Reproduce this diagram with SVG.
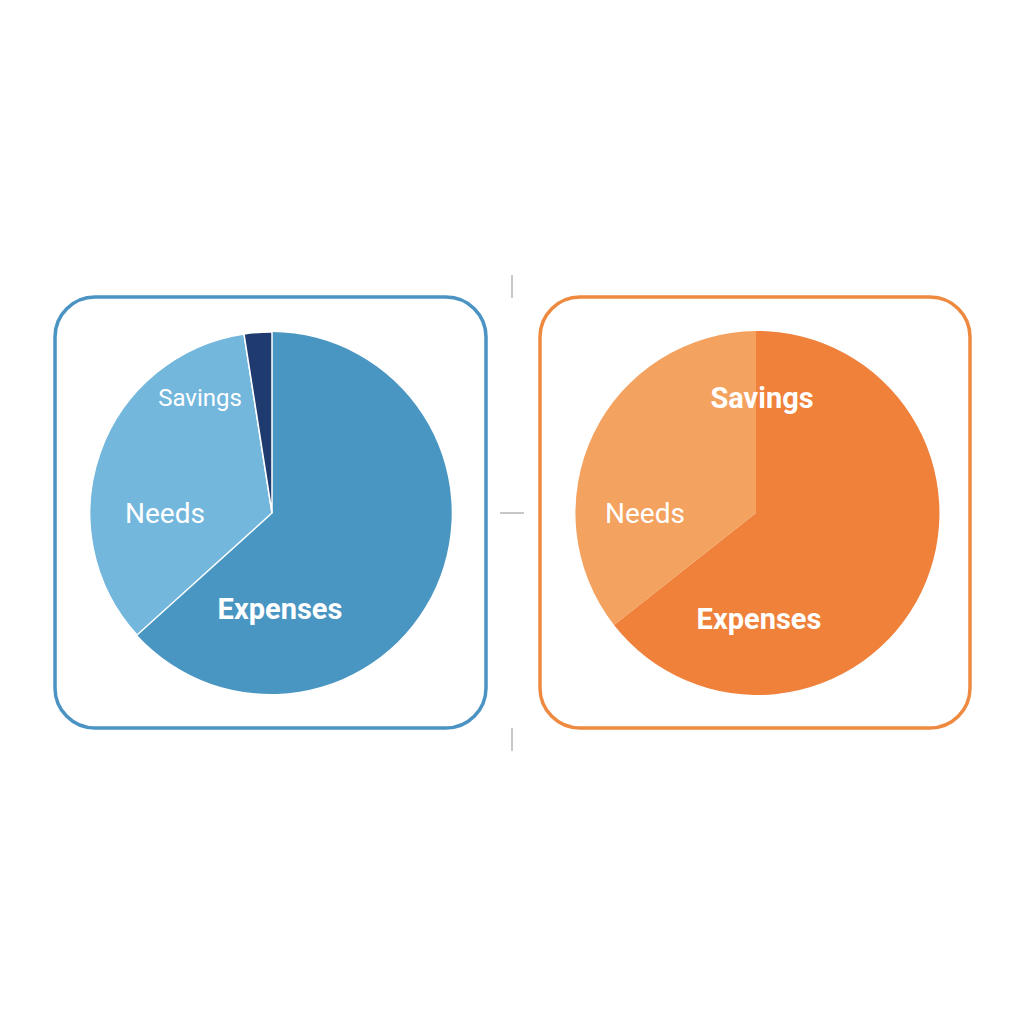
<svg xmlns="http://www.w3.org/2000/svg" width="1024" height="1024" viewBox="0 0 1024 1024">
<style>
text{font-family:Roboto,"Liberation Sans",sans-serif;fill:#fff;text-anchor:middle;dominant-baseline:central}
.b{font-weight:bold}
.tick{stroke:#c8c8c8;stroke-width:2}
</style>
<rect width="1024" height="1024" fill="#fff"/>
<g id="connectors">
<line class="tick" x1="512" y1="275" x2="512" y2="298"/>
<line class="tick" x1="500" y1="513" x2="524" y2="513"/>
<line class="tick" x1="512" y1="728" x2="512" y2="751"/>
</g>
<g id="left">
<rect x="55" y="297" width="431" height="431" rx="40" fill="none" stroke="#4a93c3" stroke-width="3.5"/>
<path d="M272,513 L272,332 A181,181 0 1,1 137,635 Z" fill="#4a96c2"/>
<path d="M272,513 L137,635 A181,181 0 0,1 244,334 Z" fill="#73b7dd" stroke="#fff" stroke-width="1.5"/>
<path d="M272,513 L244,334 A181,181 0 0,1 272,332 Z" fill="#1e3a6e" stroke="#fff" stroke-width="1.5"/>
<text x="200" y="398" font-size="24">Savings</text>
<text x="165" y="513" font-size="28">Needs</text>
<text x="280" y="609" font-size="29" class="b">Expenses</text>
</g>
<g id="right">
<rect x="540" y="297" width="430" height="431" rx="40" fill="none" stroke="#ee8a40" stroke-width="3.5"/>
<path d="M756,513 L756,331 A182,182 0 1,1 614,625 Z" fill="#ef813b"/>
<path d="M756,513 L614,625 A182,182 0 0,1 756,331 Z" fill="#f4a25f"/>
<text x="762" y="398" font-size="29" class="b">Savings</text>
<text x="645" y="513" font-size="28">Needs</text>
<text x="759" y="619" font-size="29" class="b">Expenses</text>
</g>
</svg>
